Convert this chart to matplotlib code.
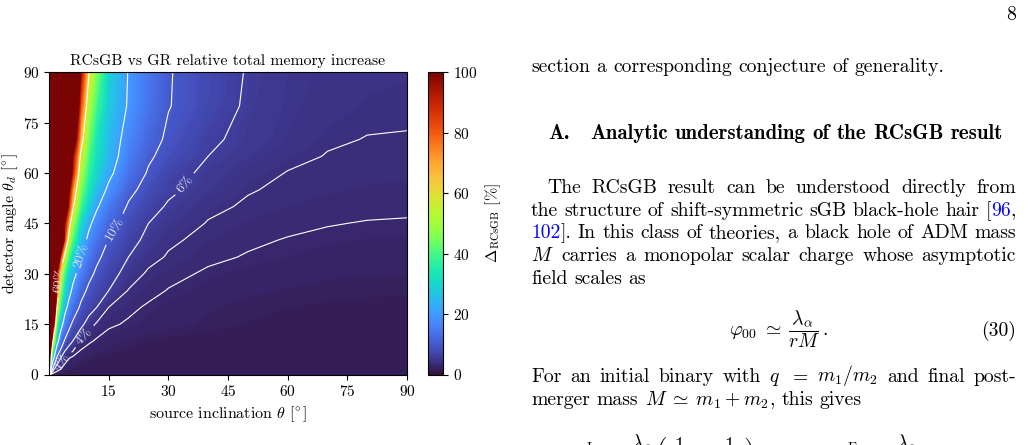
import re
import numpy as np
import matplotlib.pyplot as plt
from matplotlib import cm, colors

plt.rcParams['font.family'] = 'serif'
plt.rcParams['font.serif'] = ['cmr10']
plt.rcParams['mathtext.fontset'] = 'cm'
plt.rcParams['axes.unicode_minus'] = False
plt.rcParams['axes.formatter.use_mathtext'] = True

# grid: source inclination (columns) x detector angle (rows)
theta = [0, 0.5, 1, 2, 3, 4, 5, 6, 8, 10, 12, 15, 20, 25, 30, 40, 50, 60, 70, 80, 90]
theta_d = [0, 5, 10, 15, 20, 25, 30, 35, 40, 45, 50, 55, 60, 65, 70, 80, 90]

# relative memory increase in %, values above 100 are saturated in the map
delta = [
    [200, 1.56, 1.56, 1.56, 1.56, 1.56, 1.56, 1.56, 1.56, 1.56, 1.56, 1.56, 1.56, 1.56, 1.56, 1.56, 1.56, 1.56, 1.56, 1.56, 1.56],
    [200, 60, 24, 9.3, 6, 3.8, 3.1, 2.75, 2.35, 2.1, 1.95, 1.85, 1.75, 1.7, 1.66, 1.62, 1.6, 1.59, 1.58, 1.58, 1.58],
    [200, 120, 60, 24, 13.5, 9.3, 7.2, 6, 3.75, 3.2, 2.85, 2.5, 2.15, 1.95, 1.85, 1.75, 1.7, 1.67, 1.65, 1.64, 1.64],
    [200, 200, 106, 40, 23.5, 15.8, 11.5, 9.1, 6.77, 4.85, 3.76, 3.2, 2.85, 2.6, 2.4, 2.15, 1.98, 1.87, 1.8, 1.76, 1.74],
    [200, 200, 170, 60, 35, 23, 17.2, 13.3, 9.1, 7.2, 6.0, 4.0, 3.25, 2.85, 2.6, 2.3, 2.1, 2.0, 1.93, 1.9, 1.88],
    [200, 200, 200, 77, 44.9, 31.1, 23.2, 18.1, 11.9, 9.0, 7.5, 6.0, 3.9, 3.33, 2.95, 2.55, 2.35, 2.2, 2.1, 2.06, 2.04],
    [200, 200, 200, 95, 55, 38, 29, 23, 15.8, 11.4, 9.1, 7.1, 5.0, 3.7, 3.3, 2.85, 2.6, 2.45, 2.33, 2.26, 2.24],
    [200, 200, 200, 151, 80, 54, 38.6, 29.9, 20, 14.4, 11.0, 8.3, 6.0, 4.6, 3.83, 3.2, 2.93, 2.75, 2.6, 2.5, 2.45],
    [200, 200, 200, 200, 147, 81, 54, 40, 25, 17.8, 13.5, 9.8, 6.9, 5.35, 4.3, 3.5, 3.15, 2.95, 2.8, 2.72, 2.68],
    [200, 200, 200, 200, 153, 94, 67, 49, 30.5, 21.8, 16.6, 11.9, 8.0, 6.0, 5.02, 3.9, 3.4, 3.2, 3.05, 2.95, 2.91],
    [200, 200, 200, 200, 200, 140, 87, 62, 39, 28, 21, 14.7, 9.4, 7.0, 5.7, 4.35, 3.8, 3.5, 3.33, 3.22, 3.18],
    [200, 200, 200, 200, 200, 160, 101, 72, 45, 33, 25.5, 18.3, 11.3, 8.2, 6.5, 5.0, 4.1, 3.75, 3.55, 3.43, 3.37],
    [200, 200, 200, 200, 200, 190, 128, 89, 50, 37, 29.5, 22, 13.7, 9.5, 7.1, 5.4, 4.5, 3.95, 3.75, 3.64, 3.6],
    [200, 200, 200, 200, 200, 200, 139, 96, 57, 40, 32, 24.2, 15.5, 10.7, 8.4, 6.0, 5.0, 4.3, 3.95, 3.83, 3.78],
    [200, 200, 200, 200, 200, 200, 170, 118, 66, 44, 33, 25, 16.8, 11.9, 9.2, 6.4, 5.4, 4.7, 4.12, 3.97, 3.94],
    [200, 200, 200, 200, 200, 200, 200, 145, 82, 51, 39, 27.5, 19.2, 13.8, 10.2, 7.5, 5.6, 4.9, 4.45, 4.2, 4.17],
    [200, 200, 200, 200, 200, 200, 200, 170, 96, 61, 45, 29, 19.6, 14.2, 10.3, 7.6, 5.8, 5.0, 4.6, 4.35, 4.28],
]

levels = [3, 4, 6, 10, 20, 60]
label_pos = [(3.1, 3.7), (8.8, 11.5), (33.4, 57.3), (16.4, 43.3), (7.9, 35.3), (3.0, 28.1)]

heading = ['A.', 'Analytic understanding of the RCsGB result']
para1 = [
    'The RCsGB result can be understood directly from',
    'the structure of shift-symmetric sGB black-hole hair [|96|,',
    '|102|]. In this class of theories, a black hole of ADM mass',
    '$M$ carries a monopolar scalar charge whose asymptotic',
    'field scales as',
]
para2 = [
    'For an initial binary with $q$ $=$ $m_1/m_2$ and final post-',
    r'merger mass $M\;\simeq\;m_1 + m_2$, this gives',
]

W, H = 1028, 445
fig = plt.figure(figsize=(W / 100, H / 100), dpi=100)

def fx(px):
    return px / W

def fy(py):
    return 1 - py / H

ax = fig.add_axes([fx(49), fy(374.5), fx(358), 302.2 / H])
cax = fig.add_axes([fx(428.3), fy(374.5), fx(15), 302.2 / H])

TH, THD = np.meshgrid(theta, theta_d)
Z = np.array(delta, dtype=float)
ax.contourf(TH, THD, Z, levels=np.linspace(0, 100, 401), cmap='turbo', extend='max')
cs = ax.contour(TH, THD, Z, levels=levels, colors='white', linewidths=0.8)
lbls = ax.clabel(cs, fmt='%d%%', manual=label_pos, inline=True, fontsize=10)
for t in lbls:
    t.set_color('#dcdcf0')

ax.set_xlim(0, 90)
ax.set_ylim(0, 90)
ax.set_xticks([15, 30, 45, 60, 75, 90])
ax.set_yticks([0, 15, 30, 45, 60, 75, 90])
ax.tick_params(labelsize=11)
ax.set_title('RCsGB vs GR relative total memory increase', fontsize=11.3, pad=5)
ax.set_xlabel(r'source inclination $\theta$ $[\!^\circ]$', fontsize=11.5)
ax.set_ylabel(r'detector angle $\theta_d$ $[\!^\circ]$', fontsize=11.5, labelpad=2)

sm = cm.ScalarMappable(norm=colors.Normalize(0, 100), cmap='turbo')
cb = fig.colorbar(sm, cax=cax, ticks=[0, 20, 40, 60, 80, 100])
cb.ax.tick_params(labelsize=11)
cb.set_label(r'$\Delta_{\rm RCsGB}$ [%]', fontsize=11.5)

# --- page text on the right ---
body = 14.2
renderer = fig.canvas.get_renderer()

def text_line(line, x0, y, x1=None, size=body, family=None):
    words = re.findall(r'(?:\$[^$]*\$|\S)+', line)
    placed = []
    for w in words:
        parts = []
        for k, s in enumerate(w.split('|')):
            if not s:
                continue
            c = 'blue' if k % 2 else 'black'
            t = fig.text(0, fy(y), s, fontsize=size, color=c, va='baseline', family=family)
            parts.append((t, t.get_window_extent(renderer).width))
        placed.append(parts)
    total = sum(w for parts in placed for _, w in parts)
    gap = 0.333 * size * fig.dpi / 72
    if x1 is not None and len(placed) > 1:
        gap = (x1 - x0 - total) / (len(placed) - 1)
    x = x0
    for parts in placed:
        for t, w in parts:
            t.set_x(fx(x))
            x += w
        x += gap

fig.text(fx(1016), fy(20), '8', fontsize=body, ha='right', va='baseline')
text_line('section a corresponding conjecture of generality.', 531, 71.5)
fig.text(fx(548), fy(139), heading[0], fontsize=15, family='cmb10', va='baseline')
text_line(heading[1], 590, 139, size=15, family='cmb10')

ys = [193, 216, 238.5, 261, 283.5]
for i, (line, y) in enumerate(zip(para1, ys)):
    x0 = 547 if i == 0 else 531
    x1 = 1016 if i < len(para1) - 1 else None
    text_line(line, x0, y, x1)

fig.text(fx(778), fy(336), r'$\varphi_{00}\;\simeq\;\dfrac{\lambda_\alpha}{rM}\,.$',
         fontsize=body, ha='center', va='baseline')
fig.text(fx(1016), fy(336), '(30)', fontsize=body, ha='right', va='baseline')

text_line(para2[0], 531, 381.5, 1016)
text_line(para2[1], 531, 405)
fig.text(fx(572), fy(460),
         r'$\varphi^{\rm I}_{00}\;\simeq\;\dfrac{\lambda_\alpha}{r}\left(\dfrac{1}{m_1}+\dfrac{1}{m_2}\right),'
         r'\qquad\qquad \varphi^{\rm F}_{00}\;\simeq\;\dfrac{\lambda_\alpha}{rM}$',
         fontsize=body, va='baseline')

fig.savefig('out.png', dpi=100)
